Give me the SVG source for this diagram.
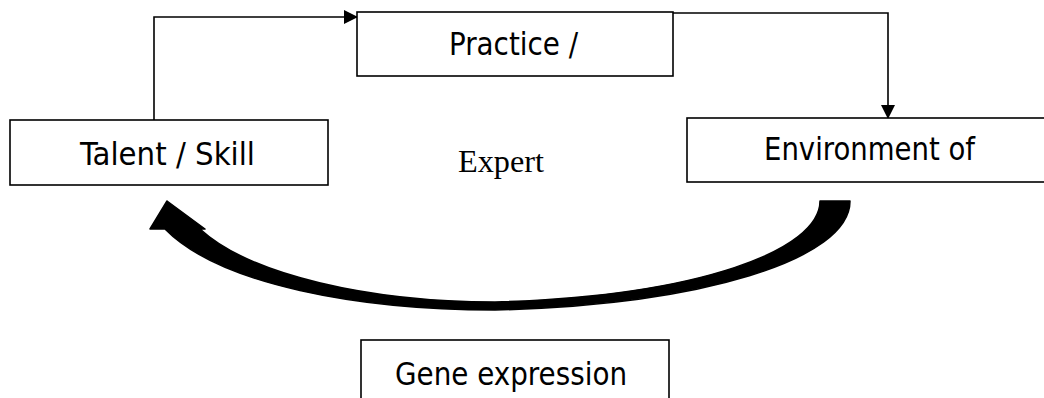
<svg xmlns="http://www.w3.org/2000/svg" width="1044" height="398" viewBox="0 0 1044 398">
<style>
.box{fill:#fff;stroke:#000;stroke-width:1.6}
.lbl{font-family:"DejaVu Sans Condensed","DejaVu Sans",sans-serif;font-size:32px;fill:#000}
.ser{font-family:"Liberation Serif","Times New Roman",serif;font-size:32px;fill:#000}
.conn{fill:none;stroke:#000;stroke-width:1.6}
</style>
<defs>
<marker id="arr" markerWidth="14" markerHeight="14" refX="13" refY="7" orient="auto" markerUnits="userSpaceOnUse">
<path d="M0,0 L14,7 L0,14 Z" fill="#000"/>
</marker>
</defs>
<rect width="1044" height="398" fill="#fff"/>
<g id="connectors">
<polyline class="conn" points="154,120 154,17 357,17" marker-end="url(#arr)"/>
<polyline class="conn" points="673,13 888,13 888,118" marker-end="url(#arr)"/>
<path d="M820,201 L850,201 C850,260 700,305 495,310 C360,310 220,285 165,229 L150,229 L167,201 L205,229 L200,229 C250,275 370,302 495,302 C700,296 820,250 820,201 Z" fill="#000" stroke="#000" stroke-width="1.5" stroke-linejoin="round"/>
</g>
<g id="practice">
<rect class="box" x="357" y="12" width="316" height="64"/>
<text class="lbl" x="449" y="55" textLength="129" lengthAdjust="spacingAndGlyphs">Practice /</text>
</g>
<g id="talent">
<rect class="box" x="10" y="120" width="318" height="65"/>
<text class="lbl" x="80" y="165" textLength="175" lengthAdjust="spacingAndGlyphs">Talent / Skill</text>
</g>
<g id="environment">
<rect class="box" x="687" y="118" width="370" height="64"/>
<text class="lbl" x="764" y="160" textLength="211" lengthAdjust="spacingAndGlyphs">Environment of</text>
</g>
<g id="expert">
<text class="ser" x="458" y="172" textLength="86" lengthAdjust="spacingAndGlyphs">Expert</text>
</g>
<g id="gene">
<rect class="box" x="361" y="340" width="308" height="70"/>
<text class="lbl" x="395" y="385" textLength="232" lengthAdjust="spacingAndGlyphs">Gene expression</text>
</g>
</svg>
